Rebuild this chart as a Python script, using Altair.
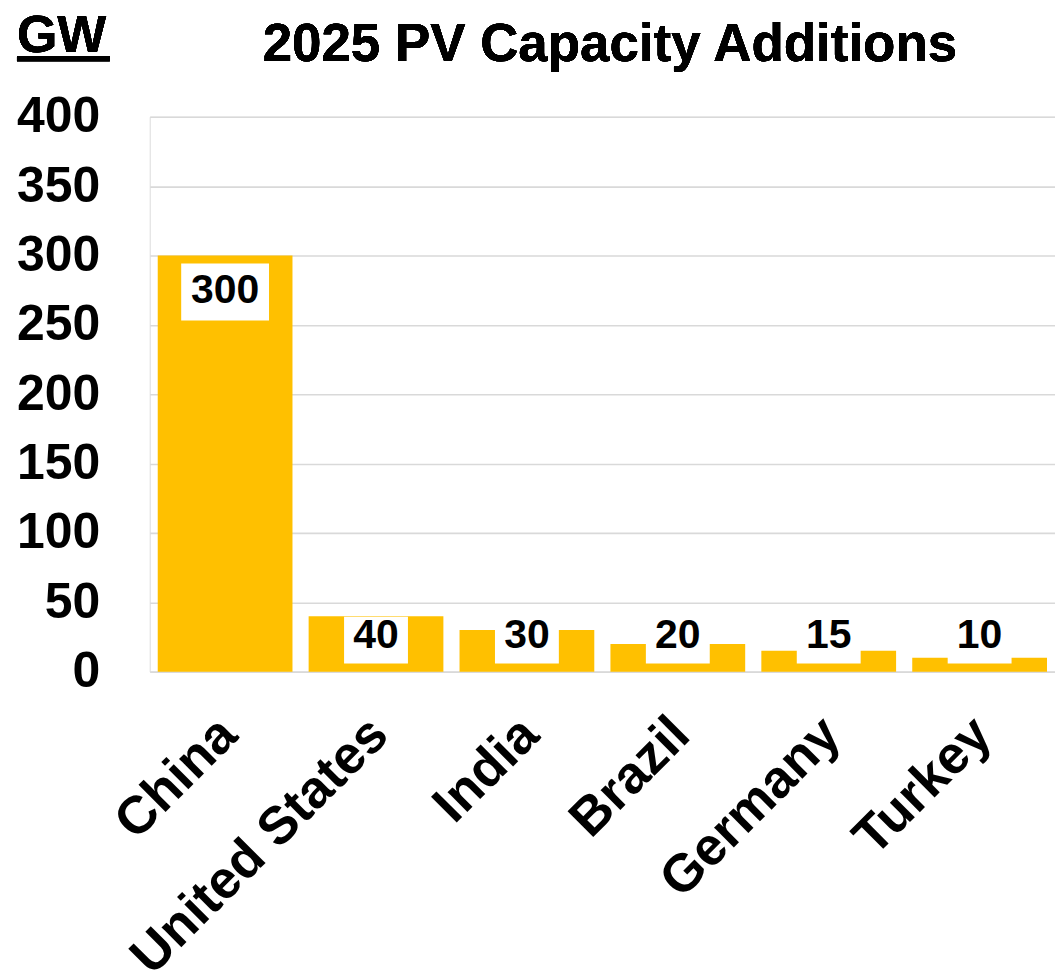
import altair as alt
import pandas as pd

countries = ["China", "United States", "India", "Brazil", "Germany", "Turkey"]
values = [300, 40, 30, 20, 15, 10]
y_ticks = [0, 50, 100, 150, 200, 250, 300, 350, 400]
title_text = "2025 PV Capacity Additions"
unit_text = "GW"

df = pd.DataFrame({"country": countries, "value": values})

FONT = "Liberation Sans"
BAR = "#FFC000"

x_enc = alt.X("country:N", sort=countries, title=None,
              scale=alt.Scale(paddingInner=0.107, paddingOuter=0.053),
              axis=alt.Axis(labelAngle=-45, labelFontSize=53, labelFont=FONT,
                            labelFontWeight="bold", labelColor="black", labelLimit=0,
                            domain=False, ticks=False, tickSize=0, labelPadding=36,
                            labelOffset=-15))
y_scale = alt.Scale(domain=[0, 400], nice=False)

base = alt.Chart(df)

bars = base.mark_bar(color=BAR).encode(
    x=x_enc,
    y=alt.Y("value:Q", scale=y_scale, title=None,
            axis=alt.Axis(values=y_ticks, labelFontSize=50, labelFont=FONT,
                          labelFontWeight="bold", labelColor="black",
                          domain=False, ticks=False, tickSize=0, labelPadding=50,
                          gridColor="#D9D9D9", gridWidth=1.6)),
)

boxes = base.transform_calculate(
    box_top="datum.value > 100 ? datum.value - 5.8 : 39.5",
    box_bot="datum.value > 100 ? datum.value - 46.8 : 5.8",
).mark_bar(color="white").encode(
    x=alt.X("country:N", sort=countries),
    y=alt.Y("box_top:Q", scale=y_scale),
    y2="box_bot:Q",
    size=alt.condition("datum.value > 100", alt.value(88), alt.value(64)),
)

labels = base.transform_calculate(
    label_y="datum.value > 100 ? datum.value - 26 : 26",
).mark_text(font=FONT, fontSize=41, fontWeight="bold", color="black",
            baseline="middle", align="center").encode(
    x=alt.X("country:N", sort=countries),
    y=alt.Y("label_y:Q", scale=y_scale),
    text="value:Q",
)

title = base.mark_text(font=FONT, fontSize=53, fontWeight="bold", color="black",
                       align="center", baseline="alphabetic").encode(
    x=alt.value(461), y=alt.value(-56), text=alt.value(title_text),
)

gw = base.mark_text(font=FONT, fontSize=52, fontWeight="bold", color="black",
                    align="left", baseline="alphabetic").encode(
    x=alt.value(-133), y=alt.value(-65), text=alt.value(unit_text),
)
gw_line = base.mark_rule(color="black", strokeWidth=5).encode(
    x=alt.value(-133), x2=alt.value(-40), y=alt.value(-58),
)

chart = alt.layer(bars, boxes, labels, title, gw, gw_line).properties(
    width=907, height=556,
    autosize=alt.AutoSizeParams(type="none"),
    padding={"left": 142, "top": 108, "right": 0, "bottom": 300},
).configure_view(stroke=None).configure(background="white")

chart.save("out.html", embed_options={"renderer": "svg", "actions": False})
